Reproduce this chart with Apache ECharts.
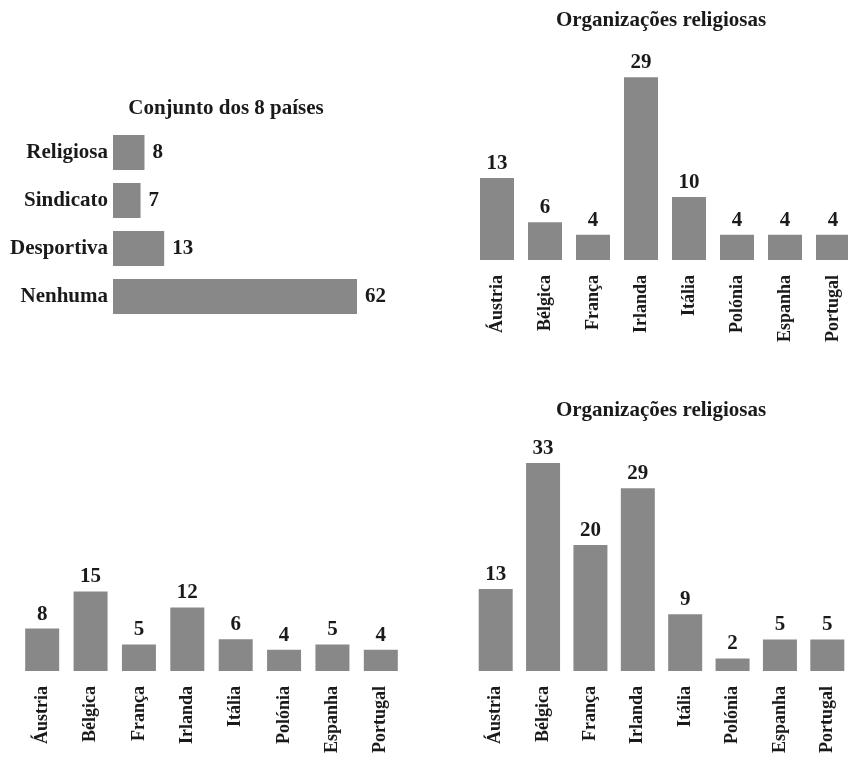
<!DOCTYPE html>
<html><head><meta charset="utf-8">
<script src="https://cdn.jsdelivr.net/npm/echarts@6/dist/echarts.min.js"></script>
<style>html,body{margin:0;padding:0;background:#fff}#c{width:848px;height:760px}</style>
</head><body><div id="c"></div>
<script>
const orgTypes = ['Religiosa', 'Sindicato', 'Desportiva', 'Nenhuma'];
const orgTotals = [8, 7, 13, 62];
const countries = ['Áustria', 'Bélgica', 'França', 'Irlanda', 'Itália', 'Polónia', 'Espanha', 'Portugal'];
const religiousA = [13, 6, 4, 29, 10, 4, 4, 4];
const panel3Values = [8, 15, 5, 12, 6, 4, 5, 4];
const religiousB = [13, 33, 20, 29, 9, 2, 5, 5];
const titles = ['Conjunto dos 8 países', 'Organizações religiosas', 'Organizações religiosas'];

const FONT = "'Liberation Serif', 'Times New Roman', serif";
const INK = '#1a1a1a';
const BAR = '#888888';
const chart = echarts.init(document.getElementById('c'), null, {renderer: 'canvas'});

const valLabel = (pos, dist) => ({show: true, position: pos, distance: dist, color: INK,
  fontFamily: FONT, fontWeight: 'bold', fontSize: 21});
const hidden = {axisLine: {show: false}, axisTick: {show: false}, splitLine: {show: false}};
const catRot = {show: true, rotate: 90, margin: 15, color: INK, fontFamily: FONT, fontWeight: 'bold', fontSize: 18};
const gridBase = {outerBoundsMode: 'none', containLabel: false};

chart.setOption({
  animation: false,
  title: [
    {text: titles[0], left: 221, top: 93, textAlign: 'center', textStyle: {fontFamily: FONT, fontWeight: 'bold', fontSize: 21, color: INK}},
    {text: titles[1], left: 656, top: 5, textAlign: 'center', textStyle: {fontFamily: FONT, fontWeight: 'bold', fontSize: 21, color: INK}},
    {text: titles[2], left: 656, top: 395, textAlign: 'center', textStyle: {fontFamily: FONT, fontWeight: 'bold', fontSize: 21, color: INK}}
  ],
  grid: [
    Object.assign({left: 113, top: 128.5, width: 244, height: 192}, gridBase),
    Object.assign({left: 473, top: 71, width: 384, height: 189}, gridBase),
    Object.assign({left: 18, top: 565, width: 387, height: 106}, gridBase),
    Object.assign({left: 472, top: 450.5, width: 379, height: 220.5}, gridBase)
  ],
  xAxis: [
    Object.assign({type: 'value', gridIndex: 0, min: 0, max: 62, axisLabel: {show: false}}, hidden),
    Object.assign({type: 'category', gridIndex: 1, data: countries, axisLabel: catRot}, hidden),
    Object.assign({type: 'category', gridIndex: 2, data: countries, axisLabel: catRot}, hidden),
    Object.assign({type: 'category', gridIndex: 3, data: countries, axisLabel: catRot}, hidden)
  ],
  yAxis: [
    Object.assign({type: 'category', gridIndex: 0, data: orgTypes, inverse: true,
      axisLabel: {show: true, margin: 5, color: INK, fontFamily: FONT, fontWeight: 'bold', fontSize: 21}}, hidden),
    Object.assign({type: 'value', gridIndex: 1, min: 0, max: 30, axisLabel: {show: false}}, hidden),
    Object.assign({type: 'value', gridIndex: 2, min: 0, max: 20, axisLabel: {show: false}}, hidden),
    Object.assign({type: 'value', gridIndex: 3, min: 0, max: 35, axisLabel: {show: false}}, hidden)
  ],
  series: [
    {type: 'bar', xAxisIndex: 0, yAxisIndex: 0, data: orgTotals, barWidth: 35, itemStyle: {color: BAR}, label: valLabel('right', 8)},
    {type: 'bar', xAxisIndex: 1, yAxisIndex: 1, data: religiousA, barWidth: 34, itemStyle: {color: BAR}, label: valLabel('top', 4)},
    {type: 'bar', xAxisIndex: 2, yAxisIndex: 2, data: panel3Values, barWidth: 34, itemStyle: {color: BAR}, label: valLabel('top', 4)},
    {type: 'bar', xAxisIndex: 3, yAxisIndex: 3, data: religiousB, barWidth: 34, itemStyle: {color: BAR}, label: valLabel('top', 4)}
  ]
});
</script></body></html>
